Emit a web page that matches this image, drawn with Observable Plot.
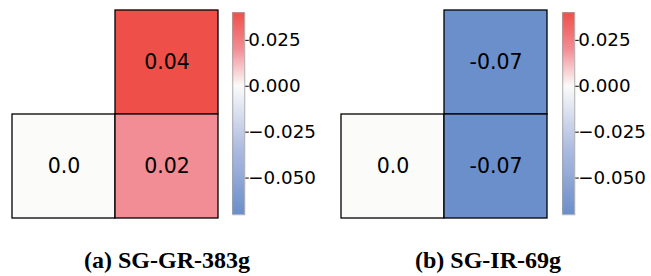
<!DOCTYPE html>
<html><head><meta charset="utf-8">
<script src="https://cdn.jsdelivr.net/npm/d3@7"></script>
<script src="https://cdn.jsdelivr.net/npm/@observablehq/plot@0.6"></script>
<style>
body{margin:0;background:#fff}
#fig{position:relative;width:651px;height:276px;overflow:hidden;background:#fff}
.part{position:absolute;top:0}
.cap{position:absolute;font-family:"Liberation Serif","Times New Roman",serif;font-weight:bold;font-size:24px;line-height:24px;white-space:nowrap;transform:translateX(-50%);color:#000}
</style>
</head><body><div id="fig"></div>
<script>
// ---- data ----
const rowKeys = ["r0", "r1"];
const colKeys = ["c0", "c1"];
// row-major, null = masked cell
const valuesA = [null, 0.04, 0.0, 0.02];
const labelsA = ["", "0.04", "0.0", "0.02"];
const valuesB = [null, -0.07, 0.0, -0.07];
const labelsB = ["", "-0.07", "0.0", "-0.07"];
const captions = ["(a) SG-GR-383g", "(b) SG-IR-69g"];
const cbarTicks = [0.025, 0, -0.025, -0.05];
const cbarRange = [-0.07, 0.04];
const colorDomain = [-0.07, -0.035, 0, 0.02, 0.04];
const colorRange = ["#6b8fca", "#abbadf", "#fbfbfa", "#f28d95", "#ee5049"];

const colorOpts = () => ({type: "linear", domain: colorDomain, range: colorRange});

function heat(values, labels) {
  const cells = values.map((v, i) => ({row: rowKeys[Math.floor(i / 2)], col: colKeys[i % 2], value: v, label: labels[i]}))
    .filter(d => d.value !== null);
  return Plot.plot({
    width: 230, height: 230,
    marginLeft: 11.3, marginRight: 11, marginTop: 10.3, marginBottom: 11.7,
    x: {domain: colKeys, padding: 0, axis: null},
    y: {domain: rowKeys, padding: 0, axis: null},
    color: colorOpts(),
    style: {background: "transparent", fontFamily: "DejaVu Sans", color: "black"},
    marks: [
      Plot.cell(cells, {x: "col", y: "row", fill: "value", stroke: "black", strokeWidth: 1.3, inset: 0}),
      Plot.text(cells, {x: "col", y: "row", text: "label", fill: "black", fontSize: 20.5, fontFamily: "DejaVu Sans"})
    ]
  });
}

function cbar() {
  const [lo, hi] = cbarRange;
  const n = 200;
  const slices = d3.range(n).map(i => ({
    y1: lo + (hi - lo) * i / n,
    y2: Math.min(hi, lo + (hi - lo) * (i + 1.7) / n),
    v: lo + (hi - lo) * (i + 0.5) / n
  }));
  return Plot.plot({
    width: 100, height: 230,
    marginLeft: 7.3, marginRight: 80.7, marginTop: 12.3, marginBottom: 15.7,
    x: {domain: [0, 1], axis: null},
    y: {domain: [lo, hi], axis: null},
    color: colorOpts(),
    style: {background: "transparent", fontFamily: "DejaVu Sans", fontSize: "18px", color: "black"},
    marks: [
      Plot.rect(slices, {x1: d => 0, x2: d => 1, y1: "y1", y2: "y2", fill: "v"}),
      Plot.frame({stroke: "#9a9a9a", strokeWidth: 0.8}),
      Plot.axisY(cbarTicks, {anchor: "right", tickSize: 3.5, tickPadding: 0, tickFormat: d3.format(".3f"), fontSize: 18.3, fontFamily: "DejaVu Sans"})
    ]
  });
}

const fig = document.getElementById("fig");
function place(node, left) {
  node.classList.add("part");
  node.style.left = left + "px";
  fig.appendChild(node);
}
place(heat(valuesA, labelsA), 0);
place(cbar(), 225);
place(heat(valuesB, labelsB), 329);
place(cbar(), 555);

[[captions[0], 167], [captions[1], 488]].forEach(([t, x]) => {
  const d = document.createElement("div");
  d.className = "cap";
  d.textContent = t;
  d.style.left = x + "px";
  d.style.top = "247.9px";
  fig.appendChild(d);
});
</script>
</body></html>
